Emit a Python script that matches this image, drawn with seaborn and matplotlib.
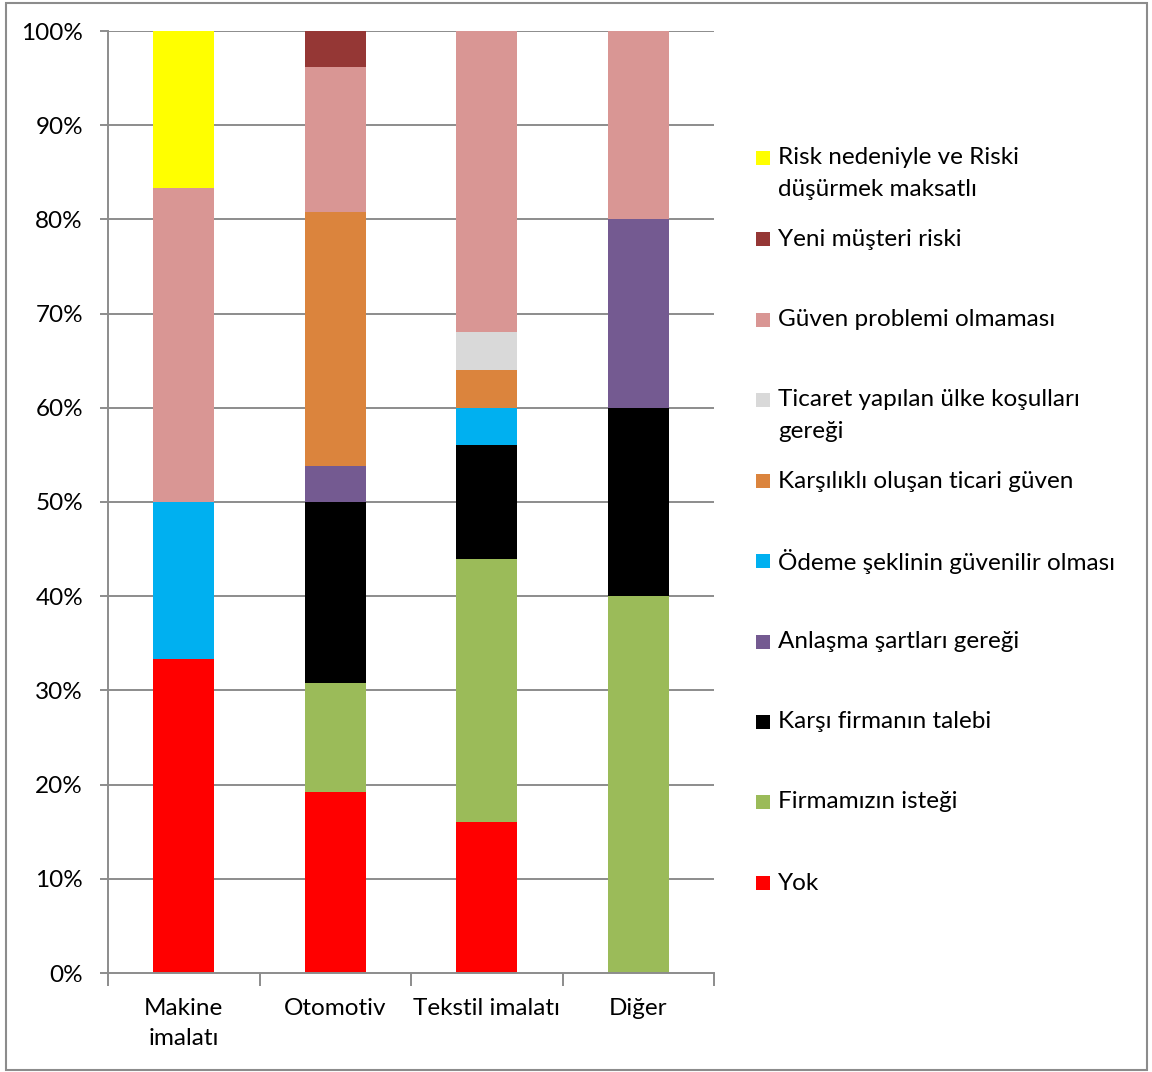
import matplotlib
matplotlib.use("Agg")
import matplotlib.pyplot as plt
import matplotlib.patches as mpatches
import numpy as np
import pandas as pd
import seaborn as sns

# Sectors on the x axis
categories = ["Makine\nimalatı", "Otomotiv", "Tekstil imalatı", "Diğer"]

# Share of answers per sector (percent), listed from the bottom of each stack upwards
yok = [33.33, 19.23, 16.0, 0.0]
firmamizin_istegi = [0.0, 11.54, 28.0, 40.0]
karsi_firma = [0.0, 19.23, 12.0, 20.0]
anlasma = [0.0, 3.85, 0.0, 20.0]
odeme = [16.67, 0.0, 4.0, 0.0]
karsilikli = [0.0, 26.92, 4.0, 0.0]
ticaret = [0.0, 0.0, 4.0, 0.0]
guven = [33.33, 15.38, 32.0, 20.0]
yeni_musteri = [0.0, 3.85, 0.0, 0.0]
risk = [16.67, 0.0, 0.0, 0.0]

series_names = [
    "Yok",
    "Firmamızın isteği",
    "Karşı firmanın talebi",
    "Anlaşma şartları gereği",
    "Ödeme şeklinin güvenilir olması",
    "Karşılıklı oluşan ticari güven",
    "Ticaret yapılan ülke koşulları\ngereği",
    "Güven problemi olmaması",
    "Yeni müşteri riski",
    "Risk nedeniyle ve Riski\ndüşürmek maksatlı",
]
series_values = [yok, firmamizin_istegi, karsi_firma, anlasma, odeme,
                 karsilikli, ticaret, guven, yeni_musteri, risk]
series_colors = ["#FF0000", "#9BBB59", "#000000", "#745A91", "#00B0F0",
                 "#DB843D", "#D9D9D9", "#D99694", "#953735", "#FFFF00"]

y_ticks = [0, 10, 20, 30, 40, 50, 60, 70, 80, 90, 100]

sns.set_theme(style="white")
plt.rcParams["font.family"] = ["Lato", "DejaVu Sans"]

FS = 17.5
W, H = 1152, 1072
fig = plt.figure(figsize=(W / 100, H / 100), dpi=100)
ax = fig.add_axes([108 / W, (H - 973) / H, 606 / W, 942 / H])

grid_color = "#8C8C8C"
for t in y_ticks[1:]:
    ax.axhline(t, color=grid_color, lw=1.4, zorder=0)

bottom = np.zeros(len(categories))
for name, vals, col in zip(series_names, series_values, series_colors):
    df = pd.DataFrame({"sector": categories, "value": vals})
    sns.barplot(data=df, x="sector", y="value", color=col, width=0.4,
                bottom=bottom, ax=ax, saturation=1, zorder=2,
                edgecolor="none", linewidth=0)
    bottom = bottom + np.array(vals)

ax.set_xlim(-0.5, len(categories) - 0.5)
ax.set_ylim(0, 100)
ax.set_xlabel("")
ax.set_ylabel("")

ax.set_yticks(y_ticks)
ax.set_yticklabels([f"{t}%" for t in y_ticks], fontsize=FS, color="black")
ax.tick_params(axis="y", which="major", left=True, length=6, width=1.4,
               color=grid_color, pad=12)

# category labels centred, tick marks on the category boundaries
ax.set_xticks(range(len(categories)))
ax.set_xticklabels(categories, fontsize=FS, color="black", linespacing=1.52)
ax.tick_params(axis="x", which="major", bottom=False, pad=12)
ax.set_xticks(np.arange(-0.5, len(categories), 1.0), minor=True)
ax.tick_params(axis="x", which="minor", bottom=True, length=9, width=1.4,
               color=grid_color)

for side in ["top", "right"]:
    ax.spines[side].set_visible(False)
for side in ["left", "bottom"]:
    ax.spines[side].set_color(grid_color)
    ax.spines[side].set_linewidth(1.4)

# legend, top entry first; the marker sits beside the first line of each label
legend_y = [158, 239, 320, 400, 481, 561, 642, 722, 802, 883]
line_gap = 32
for y, name, col in zip(legend_y, reversed(series_names), reversed(series_colors)):
    fig.patches.append(mpatches.Rectangle((756 / W, (H - y - 7) / H), 14 / W, 14 / H,
                                          transform=fig.transFigure,
                                          facecolor=col, edgecolor="none"))
    for i, line in enumerate(name.split("\n")):
        fig.text(778 / W, (H - y - i * line_gap) / H, line, fontsize=FS,
                 va="center", ha="left", color="black")

# outer frame
fig.patches.append(mpatches.Rectangle((6 / W, 2 / H), (1147 - 6) / W, (1069 - 2) / H,
                                      transform=fig.transFigure, fill=False,
                                      edgecolor="#8C8C8C", lw=1.5))

fig.savefig("out.png", dpi=100)
